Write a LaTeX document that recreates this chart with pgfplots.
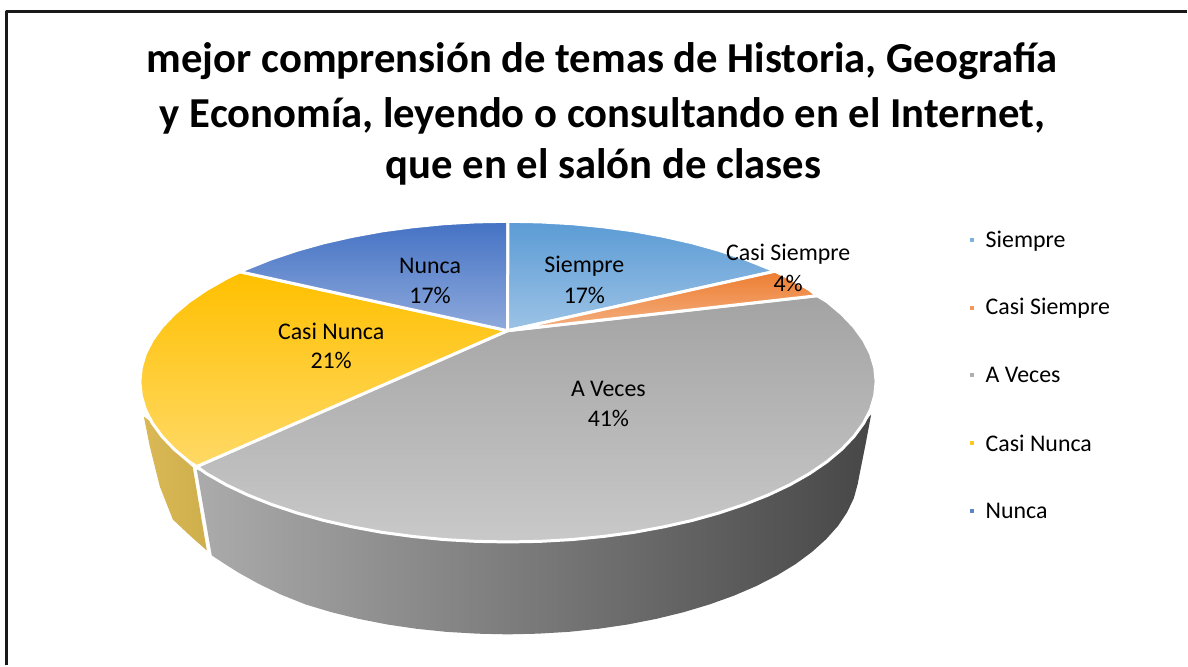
\documentclass[border=0pt]{standalone}
\usepackage{fontspec}
\setmainfont{Carlito}
\usepackage{pgfplots}
\pgfplotsset{compat=1.18}
\definecolor{HTMLyl}{HTML}{D9B855}
\definecolor{HTMLyr}{HTML}{CFAE4C}
\definecolor{HTMLa}{HTML}{A3A3A3}
\definecolor{HTMLb}{HTML}{C9C9C9}
\definecolor{HTMLc}{HTML}{FFC000}
\definecolor{HTMLd}{HTML}{FFD966}
\definecolor{HTMLe}{HTML}{4472C4}
\definecolor{HTMLf}{HTML}{8FAADC}
\definecolor{HTMLg}{HTML}{5B9BD5}
\definecolor{HTMLh}{HTML}{9DC3E6}
\definecolor{HTMLi}{HTML}{ED7D31}
\definecolor{HTMLj}{HTML}{F4B183}
\definecolor{sideL}{HTML}{ABABAB}
\definecolor{sideR}{HTML}{474747}
\begin{document}
\begin{tikzpicture}
\begin{axis}[
  scale only axis, width=1188pt, height=666pt,
  xmin=0, xmax=1188, ymin=0, ymax=666, y dir=reverse,
  hide axis, clip=false,
  every axis plot/.append style={line join=round},
]
% canvas extent
\addplot[draw=none, mark=none] coordinates {(0,0)(1188,0)(1188,666)(0,666)};
% frame
\addplot[black!90, line width=2.4pt, mark=none] coordinates {(6.5,666)(6.5,11.5)(1188,11.5)};
% yellow side wall
\addplot[draw=none, left color=HTMLyl, right color=HTMLyr, mark=none] coordinates {
(144,417)(150,447)(160,487)(173,520)(190,536)(207,551)(193,468)(174.6,449.9)(162,436)(152,423)(144,417)};
% gray side wall
\addplot[draw=none, left color=sideL, right color=sideR, mark=none] coordinates {
(872,415)(866,447)(860,477)(858.6,484.4)(854.7,498.7)(848,512.7)(838.9,526.4)(826.9,539.8)(812.8,552.5)(796.3,564.7)(777.6,576.1)(756.9,586.7)(734.3,596.4)(710,605.1)(684,612.9)(656.9,619.5)(628.4,625.1)(599.2,629.4)(569.2,632.5)(538.6,634.3)(508,635)(477.4,634.3)(446.8,632.5)(416.8,629.4)(387.6,625.1)(359.1,619.5)(332,612.9)(306,605.1)(281.7,595.4)(259.1,584.5)(238.4,573)(225,564.5)(212,556)(197,470)
(206.7,474.1)(226.2,485.2)(248,495.5)(271.6,504.9)(297,513.4)(324.2,521)(352.6,527.4)(382.5,532.9)(413.1,537)(444.4,540.1)(476.4,541.9)(508.5,542.5)(540.6,541.9)(572.6,540.1)(603.9,537)(634.5,532.9)(664.4,527.4)(692.8,521)(720,513.4)(745.4,504.9)(769,495.5)(790.8,485.2)(810.3,474.1)(827.6,462.3)(842.4,449.9)(854.8,436.9)(864.5,423.6)(872,415)};
% A Veces
\addplot[draw=white, line width=3pt, top color=HTMLa, bottom color=HTMLb, mark=none] coordinates {
(508,331)(818,296)(827.6,301.7)(842.4,314.1)(854.8,327.1)(864.5,340.4)(871.5,354.1)(875.6,368)(877,382)(875.6,396)(871.5,409.9)(864.5,423.6)(854.8,436.9)(842.4,449.9)(827.6,462.3)(810.3,474.1)(790.8,485.2)(769,495.5)(745.4,504.9)(720,513.4)(692.8,521)(664.4,527.4)(634.5,532.9)(603.9,537)(572.6,540.1)(540.6,541.9)(508.5,542.5)(476.4,541.9)(444.4,540.1)(413.1,537)(382.5,532.9)(352.6,527.4)(324.2,521)(297,513.4)(271.6,504.9)(248,495.5)(226.2,485.2)(206.7,474.1)(197,467)(508,331)};
% Casi Nunca
\addplot[draw=white, line width=3pt, top color=HTMLc, bottom color=HTMLd, mark=none] coordinates {
(508,331)(197,467)(189.4,462.3)(174.6,449.9)(162.2,436.9)(152.5,423.6)(145.5,409.9)(141.4,396)(140,382)(141.4,368)(145.5,354.1)(152.5,340.4)(162.2,327.1)(174.6,314.1)(189.4,301.7)(206.7,289.9)(226.2,278.8)(240,272)(508,331)};
% Nunca
\addplot[draw=white, line width=3pt, top color=HTMLe, bottom color=HTMLf, mark=none] coordinates {
(508,331)(240,272)(248,268.5)(271.6,259.1)(297,250.6)(324.2,243)(352.6,236.6)(382.5,231.1)(413.1,227)(444.4,223.9)(476.4,222.1)(508.5,221.5)(508,331)};
% Siempre
\addplot[draw=white, line width=3pt, top color=HTMLg, bottom color=HTMLh, mark=none] coordinates {
(508,331)(508.5,221.5)(540.6,222.1)(572.6,223.9)(603.9,227)(634.5,231.1)(664.4,236.6)(692.8,243)(720,250.6)(745.4,259.1)(769,268.5)(776,271.5)(508,331)};
% Casi Siempre
\addplot[draw=white, line width=3pt, top color=HTMLi, bottom color=HTMLj, mark=none] coordinates {
(508,331)(776,271.5)(790.8,278.8)(810.3,289.9)(818,296)(508,331)};
% legend markers
\addplot[only marks, mark=square*, mark size=1.4pt, color=HTMLg!50!HTMLh, mark options={draw=none}] coordinates {(973,240)};
\addplot[only marks, mark=square*, mark size=1.4pt, color=HTMLi!50!HTMLj, mark options={draw=none}] coordinates {(973,308)};
\addplot[only marks, mark=square*, mark size=1.4pt, color=HTMLa!70!HTMLb, mark options={draw=none}] coordinates {(973,375)};
\addplot[only marks, mark=square*, mark size=1.4pt, color=HTMLc!70!HTMLd, mark options={draw=none}] coordinates {(973,443)};
\addplot[only marks, mark=square*, mark size=1.4pt, color=HTMLe!70!HTMLf, mark options={draw=none}] coordinates {(973,511)};
% title
\tikzset{tt/.style={font=\fontsize{42.7}{46}\selectfont\bfseries, anchor=center}}
\node[tt] at (axis cs:603,61.5) {mejor comprensión de temas de Historia, Geografía};
\node[tt] at (axis cs:603,116.5) {y Economía, leyendo o consultando en el Internet,};
\node[tt] at (axis cs:604,167.5) {que en el salón de clases};
% data labels
\tikzset{dl/.style={font=\fontsize{23.9}{26}\selectfont, anchor=center}, lg/.style={font=\fontsize{23.9}{26}\selectfont, anchor=west, inner sep=0pt}}
\node[dl] at (axis cs:585,266.5) {Siempre};
\node[dl] at (axis cs:585,295.5) {17\%};
\node[dl] at (axis cs:789,254) {Casi Siempre};
\node[dl] at (axis cs:789,283.5) {4\%};
\node[dl] at (axis cs:609,389.5) {A Veces};
\node[dl] at (axis cs:609,418.5) {41\%};
\node[dl] at (axis cs:331.5,331.5) {Casi Nunca};
\node[dl] at (axis cs:331.5,360.5) {21\%};
\node[dl] at (axis cs:430.5,266.5) {Nunca};
\node[dl] at (axis cs:430.5,295.5) {17\%};
% legend
\node[lg] at (axis cs:986.5,241) {Siempre};
\node[lg] at (axis cs:986.5,309) {Casi Siempre};
\node[lg] at (axis cs:986.5,375.5) {A Veces};
\node[lg] at (axis cs:986.5,443.5) {Casi Nunca};
\node[lg] at (axis cs:986.5,511) {Nunca};
\end{axis}
\end{tikzpicture}
\end{document}
